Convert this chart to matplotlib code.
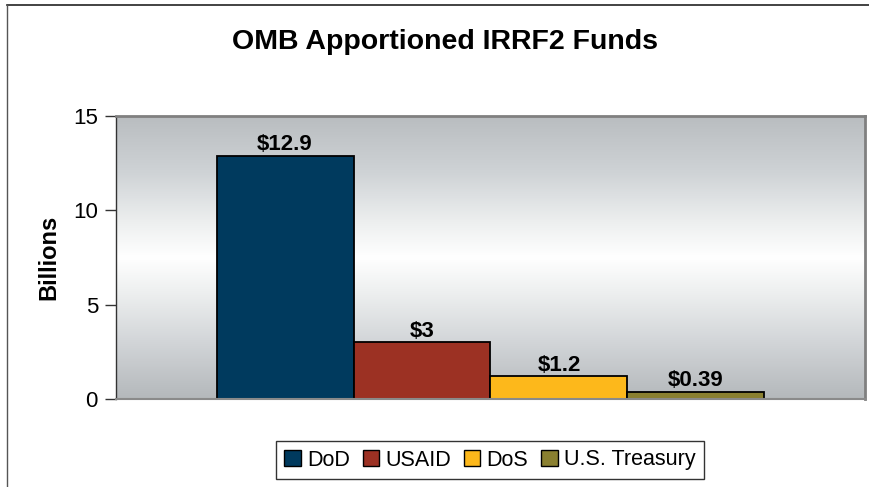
import matplotlib
matplotlib.use("Agg")
import matplotlib.pyplot as plt
import numpy as np
from matplotlib.lines import Line2D
from matplotlib.colors import LinearSegmentedColormap

plt.rcParams['font.family'] = ['Liberation Sans', 'DejaVu Sans']

categories = ["DoD", "USAID", "DoS", "U.S. Treasury"]
values = [12.9, 3.0, 1.2, 0.39]
labels = ["$12.9", "$3", "$1.2", "$0.39"]
colors = ["#003A5E", "#9C3123", "#FDB81B", "#8A8030"]
yticks = [0, 5, 10, 15]

W, H = 869, 487
fig = plt.figure(figsize=(W/100, H/100), dpi=100)
ax = fig.add_axes([116/W, 1-399/H, (865-116)/W, (399-116)/H])

# gradient background
cmap = LinearSegmentedColormap.from_list("g", [(0, "#b9bdc0"), (0.2, "#cfd3d6"), (0.38, "#eef0f0"), (0.5, "#ffffff"), (0.62, "#eef0f0"), (0.8, "#d2d5d8"), (1, "#b4b8bb")])
grad = np.linspace(0, 1, 256).reshape(-1, 1)
ax.imshow(grad, aspect='auto', cmap=cmap, extent=[0, 1, 0, 1], transform=ax.transAxes, zorder=0)

x = np.arange(len(values))
bars = ax.bar(x, values, width=1.0, color=colors, edgecolor="black", linewidth=1.3, zorder=2)
for xi, v, lab in zip(x, values, labels):
    ax.text(xi, v + 0.02, lab, ha='center', va='bottom', fontsize=16, fontweight='bold', zorder=3)

ax.set_xlim(-1.235, 4.235)
ax.set_ylim(0, 15)
ax.set_yticks(yticks)
ax.set_xticks([])
ax.tick_params(axis='y', direction='out', length=8, width=1, colors='#333333', labelsize=16, labelcolor='black', pad=5)
for s in ['top', 'right']:
    ax.spines[s].set_color('#808080')
    ax.spines[s].set_linewidth(2)
ax.spines['left'].set_color('#333333')
ax.spines['left'].set_linewidth(1)
ax.spines['bottom'].set_color('#8a8a8a')
ax.spines['bottom'].set_linewidth(1.5)

ax.set_ylabel("Billions", fontsize=17, fontweight='bold', labelpad=9)

fig.text(445/W, 1-42/H, "OMB Apportioned IRRF2 Funds", ha='center', va='center', fontsize=20.5, fontweight='bold')

handles = [plt.Rectangle((0, 0), 1, 1, facecolor=c, edgecolor='black', linewidth=1) for c in colors]
leg = fig.legend(handles, categories, loc='center', bbox_to_anchor=(490/W, 1-460/H), ncol=4,
                 fontsize=15.5, frameon=True, fancybox=False, edgecolor='black', handlelength=0.75,
                 handleheight=0.75, handletextpad=0.3, columnspacing=0.6, borderpad=0.4)
leg.get_frame().set_linewidth(1)

# figure border (top and left)
fig.add_artist(Line2D([7/W, 1], [1-5/H, 1-5/H], color='#222222', linewidth=1.2, transform=fig.transFigure))
fig.add_artist(Line2D([7/W, 7/W], [0, 1-5/H], color='#555555', linewidth=1, transform=fig.transFigure))

fig.savefig("out.png", dpi=100)
